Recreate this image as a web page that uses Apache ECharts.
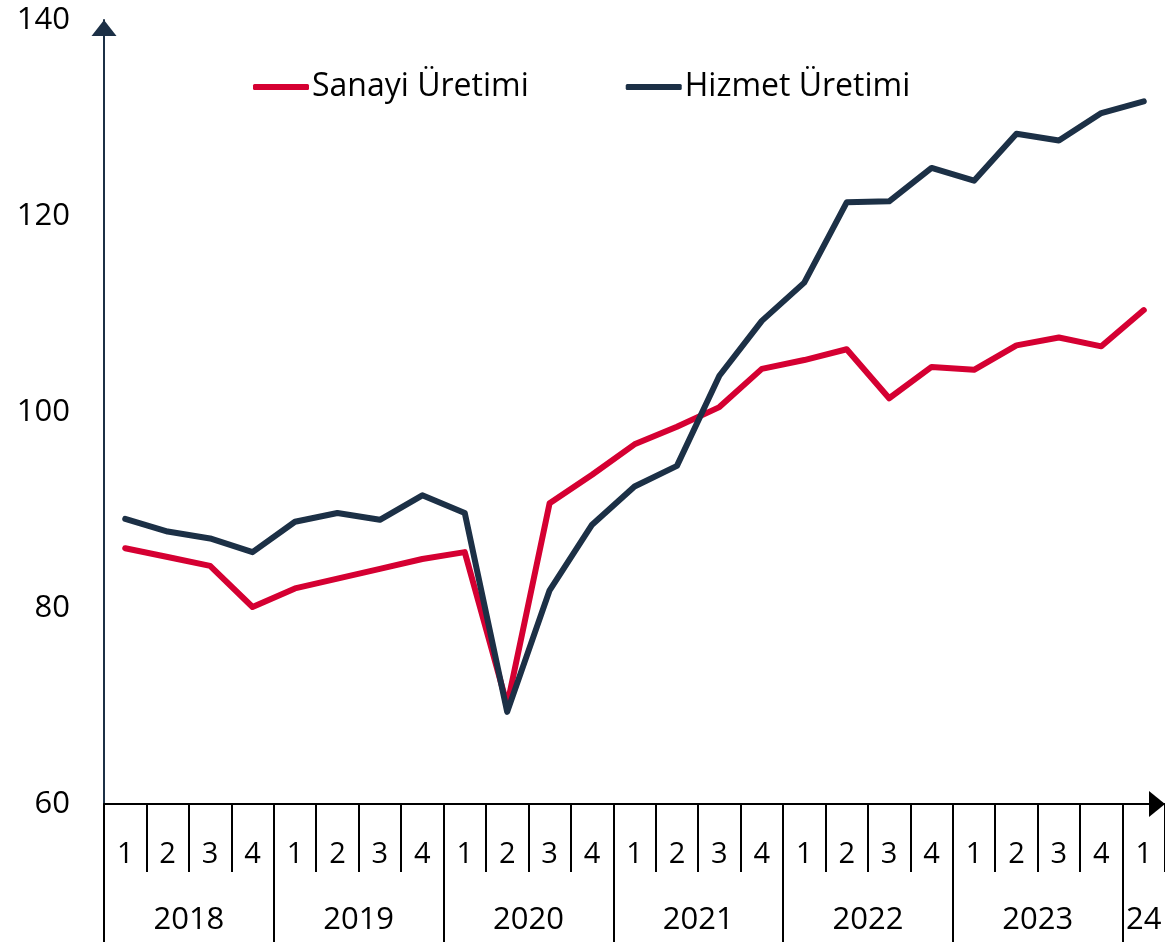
<!DOCTYPE html>
<html>
<head>
<meta charset="utf-8">
<script src="https://cdn.jsdelivr.net/npm/echarts@6/dist/echarts.min.js"></script>
<style>
  html, body { margin: 0; padding: 0; background: #fff; }
  #chart { width: 1165px; height: 944px; }
</style>
</head>
<body>
<div id="chart"></div>
<script>
// ceyrekler 2018Q1 - 2024Q1
var quarters = ['1','2','3','4','1','2','3','4','1','2','3','4','1','2','3','4','1','2','3','4','1','2','3','4','1'];
var years = ['2018','2019','2020','2021','2022','2023','24'];
var yearCenters = [2, 6, 10, 14, 18, 22, 24.5];
var yearBounds = [0, 4, 8, 12, 16, 20, 24];

var sanayi = [86.1, 85.2, 84.3, 80.1, 82.0, 83.0, 84.0, 85.0, 85.7, 70.1, 90.7, 93.6, 96.7, 98.5, 100.5, 104.4, 105.3, 106.4, 101.4, 104.6, 104.3, 106.8, 107.6, 106.7, 110.4];
var hizmet = [89.1, 87.8, 87.1, 85.7, 88.8, 89.7, 89.0, 91.5, 89.7, 69.4, 81.8, 88.5, 92.4, 94.5, 103.7, 109.3, 113.2, 121.4, 121.5, 124.9, 123.6, 128.4, 127.7, 130.5, 131.7];

var yTicks = [60, 140, 20]; // min, max, aralik

var RED = '#d50032';
var NAVY = '#1c3046';
var FONT = '"Open Sans", sans-serif';

var chart = echarts.init(document.getElementById('chart'));

var option = {
  animation: false,
  grid: { left: 104, right: 0, top: 20, bottom: 140 },
  legend: {
    left: 253,
    top: 71,
    padding: 0,
    icon: 'roundRect',
    itemWidth: 56,
    itemHeight: 6,
    itemGap: 97,
    textStyle: { fontFamily: FONT, fontSize: 32, color: '#000', lineHeight: 32, padding: [0, 0, 0, -2] },
    data: ['Sanayi Üretimi', 'Hizmet Üretimi']
  },
  xAxis: [
    {
      type: 'category',
      data: quarters,
      boundaryGap: true,
      axisLine: {
        lineStyle: { color: '#000', width: 2 },
        symbol: ['none', 'triangle'],
        symbolSize: [26, 16],
        symbolOffset: [0, -8]
      },
      axisTick: { show: true, interval: 0, length: 68, lineStyle: { color: '#000', width: 2 } },
      axisLabel: {
        interval: 0, margin: 37, color: '#000',
        fontFamily: FONT, fontSize: 29, lineHeight: 28
      },
      splitLine: { show: false }
    },
    {
      type: 'value',
      min: 0,
      max: 25,
      position: 'bottom',
      axisLine: { show: false },
      axisTick: {
        show: true, length: 138, customValues: yearBounds,
        lineStyle: { color: '#000', width: 2 }
      },
      axisLabel: {
        margin: 101, color: '#000', fontFamily: FONT, fontSize: 31, lineHeight: 30,
        customValues: yearCenters,
        formatter: function (v) { return years[yearCenters.indexOf(v)]; }
      },
      splitLine: { show: false }
    }
  ],
  yAxis: {
    type: 'value',
    min: yTicks[0],
    max: yTicks[1],
    interval: yTicks[2],
    axisLine: {
      show: true,
      lineStyle: { color: NAVY, width: 2 },
      symbol: ['none', 'triangle'],
      symbolSize: [25, 16],
      symbolOffset: [0, -8]
    },
    axisTick: { show: false },
    axisLabel: { margin: 34, color: '#000', fontFamily: FONT, fontSize: 31 },
    splitLine: { show: false }
  },
  series: [
    {
      name: 'Sanayi Üretimi',
      type: 'line',
      data: sanayi,
      symbol: 'none',
      itemStyle: { color: RED },
      lineStyle: { color: RED, width: 6, join: 'round', cap: 'round' }
    },
    {
      name: 'Hizmet Üretimi',
      type: 'line',
      data: hizmet,
      symbol: 'none',
      itemStyle: { color: NAVY },
      lineStyle: { color: NAVY, width: 6, join: 'round', cap: 'round' }
    }
  ]
};

chart.setOption(option);
window.addEventListener('resize', function () { chart.resize(); });
</script>
</body>
</html>
